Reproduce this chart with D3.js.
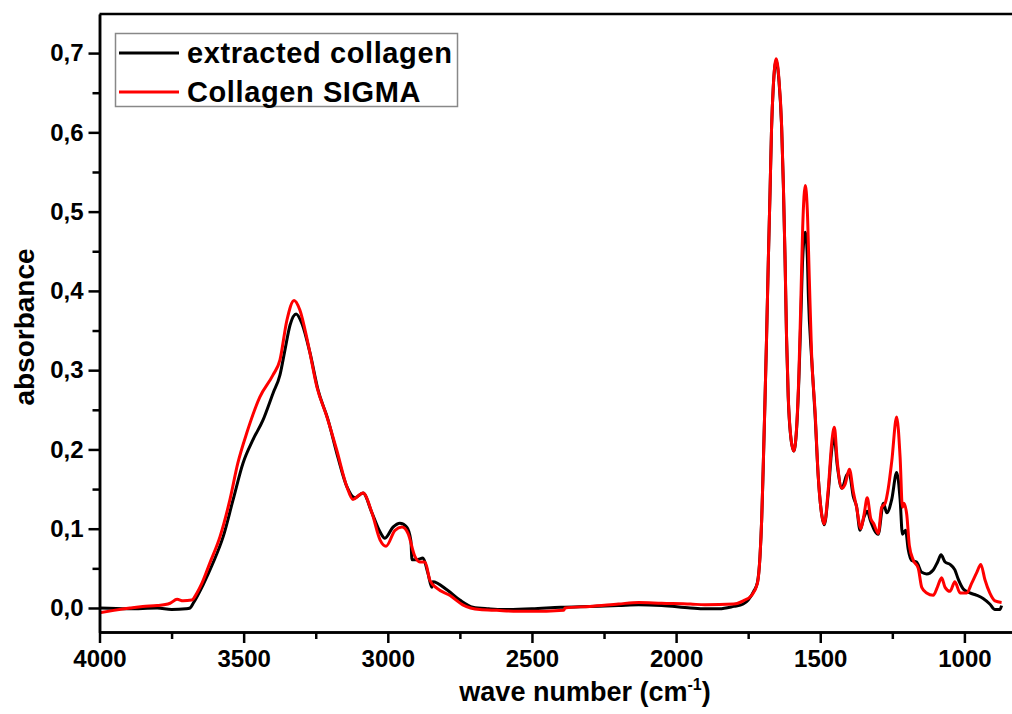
<!DOCTYPE html>
<html>
<head>
<meta charset="utf-8">
<script src="https://cdn.jsdelivr.net/npm/d3@7"></script>
<style>
  body { margin: 0; background: #ffffff; }
  svg { display: block; font-family: "Liberation Sans", Arial, sans-serif; font-weight: bold; }
</style>
</head>
<body>
<svg id="chart"></svg>
<script>
// extracted collagen (black)
var blackWn = [4000, 3900, 3800, 3750, 3700, 3686, 3675, 3641, 3606, 3571, 3537, 3502, 3468, 3433, 3398, 3374, 3357, 3339, 3318, 3298, 3270, 3242, 3207, 3173, 3142, 3114, 3086, 3055, 3027, 3010, 2982, 2958, 2934, 2920, 2916, 2899, 2878, 2861, 2847, 2844, 2795, 2750, 2705, 2650, 2600, 2500, 2400, 2300, 2200, 2130, 2050, 1950, 1900, 1850, 1800, 1767, 1731, 1718, 1709, 1703, 1698, 1692, 1686, 1680, 1674, 1669, 1663, 1653, 1643, 1634, 1628, 1622, 1617, 1611, 1603, 1592, 1582, 1574, 1567, 1561, 1552, 1545, 1541, 1530, 1518, 1507, 1495, 1486, 1472, 1460, 1452, 1441, 1425, 1408, 1400, 1385, 1374, 1362, 1348, 1337, 1325, 1299, 1281, 1269, 1252, 1235, 1223, 1215, 1204, 1195, 1183, 1166, 1148, 1131, 1108, 1093, 1081, 1067, 1050, 1033, 1021, 1004, 981, 957, 935, 912, 894, 877, 871];
var blackAbs = [0.000, -0.001, 0.000, -0.002, -0.001, 0.000, 0.006, 0.029, 0.057, 0.090, 0.136, 0.183, 0.212, 0.237, 0.271, 0.294, 0.325, 0.357, 0.371, 0.359, 0.322, 0.275, 0.237, 0.190, 0.153, 0.139, 0.145, 0.120, 0.096, 0.088, 0.102, 0.107, 0.102, 0.085, 0.061, 0.061, 0.063, 0.044, 0.026, 0.033, 0.023, 0.010, 0.001, -0.001, -0.002, -0.001, 0.001, 0.002, 0.003, 0.004, 0.003, 0.000, -0.001, -0.001, 0.002, 0.005, 0.021, 0.032, 0.065, 0.113, 0.175, 0.257, 0.344, 0.440, 0.527, 0.604, 0.657, 0.690, 0.664, 0.607, 0.534, 0.438, 0.342, 0.265, 0.218, 0.198, 0.226, 0.290, 0.370, 0.440, 0.474, 0.445, 0.392, 0.315, 0.244, 0.166, 0.118, 0.105, 0.146, 0.200, 0.217, 0.180, 0.151, 0.168, 0.170, 0.140, 0.128, 0.098, 0.115, 0.122, 0.109, 0.093, 0.132, 0.120, 0.137, 0.171, 0.137, 0.093, 0.098, 0.074, 0.060, 0.058, 0.045, 0.043, 0.048, 0.058, 0.067, 0.058, 0.055, 0.048, 0.036, 0.024, 0.019, 0.016, 0.012, 0.005, -0.002, -0.002, 0.003];

// Collagen SIGMA (red)
var redWn = [4000, 3950, 3894, 3850, 3800, 3755, 3731, 3710, 3680, 3662, 3645, 3617, 3582, 3548, 3520, 3489, 3444, 3398, 3374, 3350, 3325, 3305, 3277, 3246, 3211, 3177, 3142, 3121, 3086, 3055, 3027, 3006, 2975, 2951, 2930, 2906, 2889, 2871, 2854, 2830, 2785, 2740, 2681, 2622, 2550, 2450, 2390, 2385, 2300, 2200, 2130, 2050, 1950, 1900, 1800, 1767, 1738, 1718, 1709, 1703, 1698, 1692, 1686, 1680, 1674, 1669, 1663, 1653, 1643, 1634, 1628, 1622, 1617, 1611, 1603, 1592, 1582, 1574, 1567, 1561, 1552, 1545, 1538, 1530, 1518, 1507, 1495, 1486, 1472, 1460, 1451, 1441, 1425, 1414, 1399, 1385, 1374, 1359, 1348, 1337, 1325, 1314, 1299, 1287, 1275, 1264, 1252, 1235, 1223, 1215, 1210, 1200, 1191, 1177, 1160, 1148, 1131, 1108, 1094, 1079, 1067, 1050, 1033, 1015, 992, 975, 957, 943, 929, 912, 894, 871];
var redAbs = [-0.006, -0.003, 0.000, 0.002, 0.003, 0.006, 0.011, 0.009, 0.010, 0.019, 0.031, 0.057, 0.090, 0.136, 0.183, 0.221, 0.266, 0.294, 0.313, 0.363, 0.388, 0.376, 0.334, 0.279, 0.241, 0.199, 0.153, 0.137, 0.145, 0.120, 0.086, 0.078, 0.098, 0.102, 0.094, 0.065, 0.058, 0.058, 0.035, 0.025, 0.016, 0.004, -0.002, -0.003, -0.004, -0.004, -0.003, 0.000, 0.002, 0.005, 0.007, 0.006, 0.005, 0.004, 0.005, 0.009, 0.016, 0.031, 0.065, 0.113, 0.175, 0.257, 0.344, 0.440, 0.527, 0.604, 0.657, 0.693, 0.666, 0.609, 0.536, 0.440, 0.344, 0.267, 0.219, 0.198, 0.228, 0.296, 0.392, 0.479, 0.533, 0.503, 0.416, 0.320, 0.248, 0.166, 0.118, 0.106, 0.151, 0.209, 0.228, 0.185, 0.151, 0.156, 0.175, 0.146, 0.127, 0.100, 0.118, 0.139, 0.113, 0.106, 0.094, 0.127, 0.132, 0.151, 0.185, 0.241, 0.190, 0.127, 0.132, 0.118, 0.079, 0.060, 0.050, 0.026, 0.019, 0.016, 0.026, 0.038, 0.026, 0.021, 0.033, 0.019, 0.019, 0.031, 0.045, 0.055, 0.036, 0.019, 0.009, 0.007];

var xMajor = [4000, 3500, 3000, 2500, 2000, 1500, 1000];
var xMinor = [3750, 3250, 2750, 2250, 1750, 1250];
var yMajor = [0, 0.1, 0.2, 0.3, 0.4, 0.5, 0.6, 0.7];
var yMinor = [0.05, 0.15, 0.25, 0.35, 0.45, 0.55, 0.65];
var seriesNames = ["extracted collagen", "Collagen SIGMA"];
var seriesColors = ["#000000", "#ff0000"];

var width = 1012, height = 714;
var plotLeft = 99.5, plotRight = 1012, plotTop = 14, plotBottom = 632;

var svg = d3.select("#chart")
    .attr("width", width)
    .attr("height", height);

svg.append("rect")
    .attr("width", width)
    .attr("height", height)
    .attr("fill", "#ffffff");

var x = d3.scaleLinear()
    .domain([4000, 4000 - (plotRight - plotLeft) / 0.2883])
    .range([plotLeft, plotRight]);
var y = d3.scaleLinear()
    .domain([-0.0303, 0.7493])
    .range([plotBottom, plotTop]);

svg.append("clipPath")
    .attr("id", "plot-clip")
  .append("rect")
    .attr("x", plotLeft)
    .attr("y", plotTop)
    .attr("width", plotRight - plotLeft)
    .attr("height", plotBottom - plotTop);

var line = d3.line()
    .x(function(d){ return x(d[0]); })
    .y(function(d){ return y(d[1]); })
    .curve(d3.curveMonotoneX);

var blackData = d3.zip(blackWn, blackAbs);
var redData = d3.zip(redWn, redAbs);

var plot = svg.append("g").attr("clip-path", "url(#plot-clip)");
[blackData, redData].forEach(function(data, i){
    plot.append("path")
        .datum(data)
        .attr("d", line)
        .attr("fill", "none")
        .attr("stroke", seriesColors[i])
        .attr("stroke-width", 3)
        .attr("stroke-linejoin", "round");
});

// axes
var fmt = function(d){ return d3.format(".1f")(d).replace(".", ","); };

svg.append("g")
    .attr("transform", `translate(${plotLeft},0)`)
    .call(d3.axisLeft(y).tickValues(yMajor).tickSize(11).tickSizeOuter(0).tickPadding(5).tickFormat(fmt));
svg.append("g")
    .attr("transform", `translate(${plotLeft},0)`)
    .call(d3.axisLeft(y).tickValues(yMinor).tickSize(7).tickSizeOuter(0).tickFormat(""));

svg.append("g")
    .attr("transform", `translate(0,${plotBottom})`)
    .call(d3.axisBottom(x).tickValues(xMajor).tickSize(11).tickSizeOuter(0).tickPadding(7).tickFormat(d3.format("d")));
svg.append("g")
    .attr("transform", `translate(0,${plotBottom})`)
    .call(d3.axisBottom(x).tickValues(xMinor).tickSize(7).tickSizeOuter(0).tickFormat(""));

svg.selectAll(".domain, .tick line")
    .attr("stroke", "#000")
    .attr("stroke-width", 2.5);
svg.selectAll(".tick text")
    .attr("fill", "#000")
    .style("font-size", "24px")
    .style("font-weight", "bold")
    .style("font-family", "'Liberation Sans', Arial, sans-serif");

// top frame line
svg.append("line")
    .attr("x1", plotLeft).attr("x2", plotRight)
    .attr("y1", plotTop).attr("y2", plotTop)
    .attr("stroke", "#000")
    .attr("stroke-width", 2.5);

// axis titles
var xTitle = svg.append("text")
    .attr("x", 585)
    .attr("y", 701)
    .attr("text-anchor", "middle")
    .style("font-size", "27px")
    .text("wave number (cm");
xTitle.append("tspan")
    .attr("dy", -11)
    .style("font-size", "16px")
    .text("-1");
xTitle.append("tspan")
    .attr("dy", 11)
    .text(")");

svg.append("text")
    .attr("transform", "translate(34,327) rotate(-90)")
    .attr("text-anchor", "middle")
    .style("font-size", "28px")
    .text("absorbance");

// legend
var legend = svg.append("g");
legend.append("rect")
    .attr("x", 115.5)
    .attr("y", 33.5)
    .attr("width", 342)
    .attr("height", 73)
    .attr("fill", "#ffffff")
    .attr("stroke", "#888888")
    .attr("stroke-width", 1.5);
seriesNames.forEach(function(name, i){
    var ly = 53 + i * 39;
    legend.append("line")
        .attr("x1", 119).attr("x2", 179)
        .attr("y1", ly).attr("y2", ly)
        .attr("stroke", seriesColors[i])
        .attr("stroke-width", 3);
    legend.append("text")
        .attr("x", 187)
        .attr("y", ly + 10)
        .style("font-size", "29px")
        .style("letter-spacing", "0.6px")
        .text(name);
});
</script>
</body>
</html>
